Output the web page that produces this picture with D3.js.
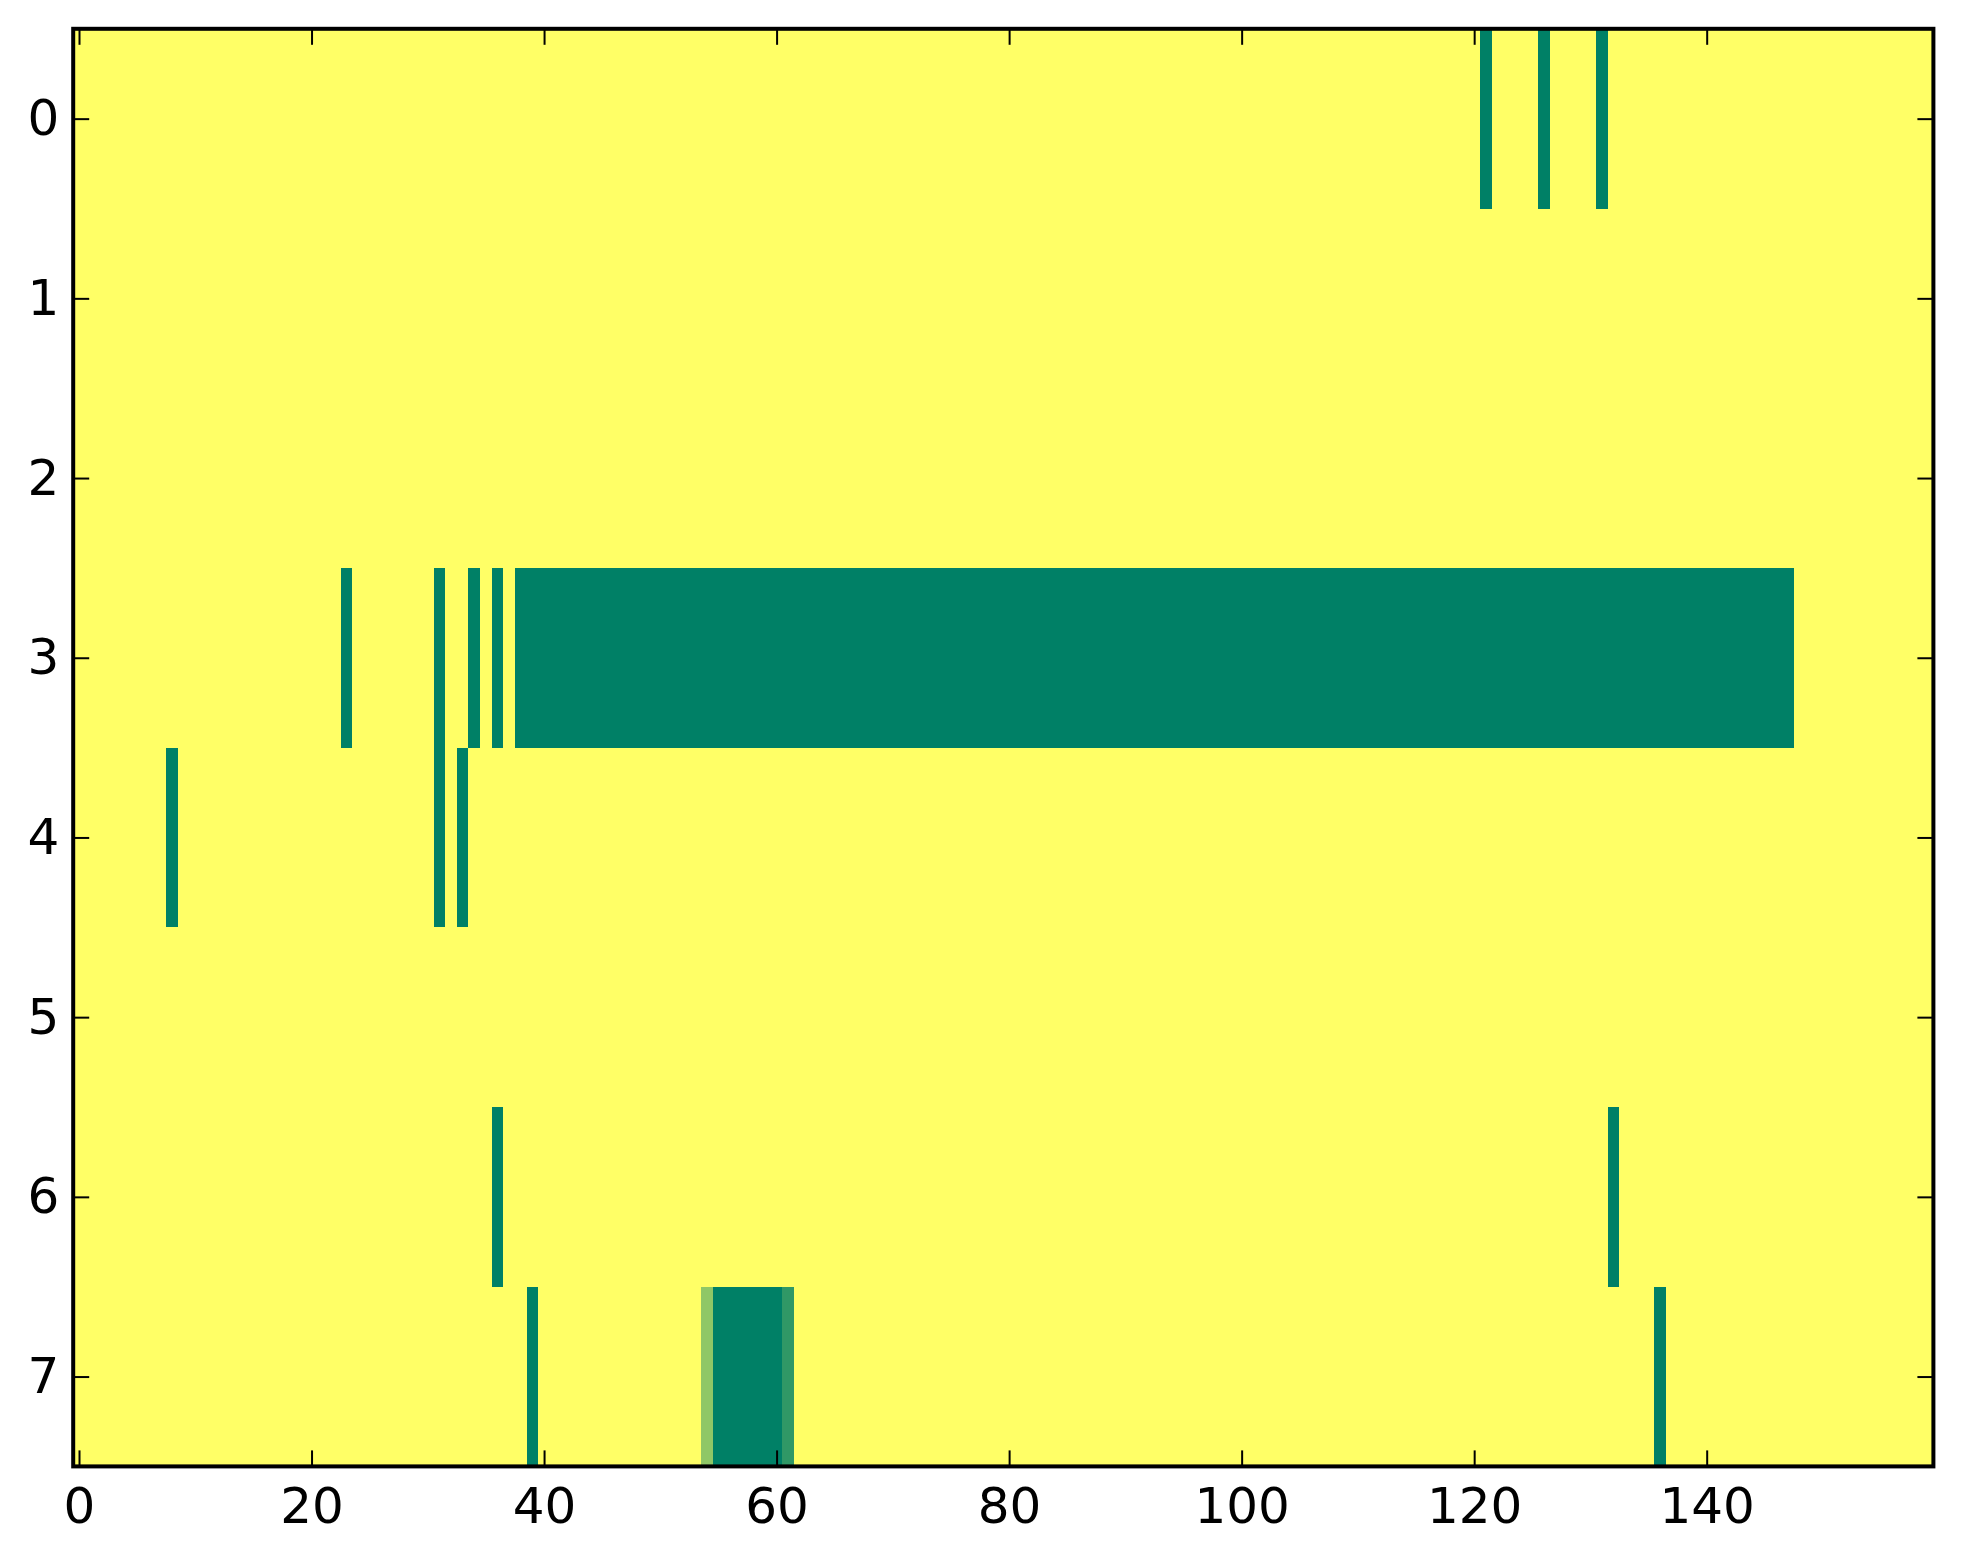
<!DOCTYPE html>
<html>
<head>
<meta charset="utf-8">
<script src="https://cdn.jsdelivr.net/npm/d3@7"></script>
<style>
  html, body { margin: 0; padding: 0; background: #fff; }
  svg { display: block; }
  .tick text { font-family: "DejaVu Sans", sans-serif; font-size: 50px; fill: #000; }
</style>
</head>
<body>
<script>
// ---- data ----
const nCols = 160;                 // columns 0..159
const rowLabels = [0, 1, 2, 3, 4, 5, 6, 7];
const xTicks = [0, 20, 40, 60, 80, 100, 120, 140];
const yTicks = [0, 1, 2, 3, 4, 5, 6, 7];
const defaultValue = 1;            // background (yellow)
// runs of non-default cells: [row, firstCol, lastCol, value]
const runs = [
  [0, 121, 121, 0], [0, 126, 126, 0], [0, 131, 131, 0],
  [3, 23, 23, 0], [3, 31, 31, 0], [3, 34, 34, 0], [3, 36, 36, 0], [3, 38, 147, 0],
  [4, 8, 8, 0], [4, 31, 31, 0], [4, 33, 33, 0],
  [6, 36, 36, 0], [6, 132, 132, 0],
  [7, 39, 39, 0], [7, 54, 54, 0.56], [7, 55, 60, 0], [7, 61, 61, 0.19], [7, 136, 136, 0]
];

// build matrix
const matrix = rowLabels.map(() => new Array(nCols).fill(defaultValue));
runs.forEach(([r, a, b, v]) => { for (let c = a; c <= b; c++) matrix[r][c] = v; });
const cells = [];
matrix.forEach((row, r) => row.forEach((v, c) => cells.push({ r, c, v })));

// ---- layout ----
const W = 1963, H = 1564;
const L = 73.2, R = 1933.4, T = 28.8, B = 1466.4;

const svg = d3.select("body").append("svg").attr("width", W).attr("height", H);

const x = d3.scaleLinear().domain([-0.5, nCols - 0.5]).range([L, R]);
const y = d3.scaleLinear().domain([-0.5, rowLabels.length - 0.5]).range([T, B]);

// summer colormap
const summer = v => d3.rgb(255 * v, 255 * (0.5 + 0.5 * v), 102);

svg.append("g").selectAll("rect").data(cells).join("rect")
  .attr("x", d => x(d.c - 0.5))
  .attr("y", d => y(d.r - 0.5))
  .attr("width", d => x(d.c + 0.5) - x(d.c - 0.5) + 0.5)
  .attr("height", d => y(d.r + 0.5) - y(d.r - 0.5) + 0.5)
  .attr("fill", d => summer(d.v))
  .attr("shape-rendering", "crispEdges");

const tickLen = 16;
function styleAxis(g) {
  g.select(".domain").remove();
  g.selectAll(".tick line").attr("stroke", "#000").attr("stroke-width", 2);
}

svg.append("g").attr("transform", `translate(0,${B})`)
  .call(d3.axisBottom(x).tickValues(xTicks).tickSize(-tickLen).tickPadding(21).tickFormat(d3.format("d")))
  .call(styleAxis);
svg.append("g").attr("transform", `translate(0,${T})`)
  .call(d3.axisTop(x).tickValues(xTicks).tickSize(-tickLen).tickFormat(""))
  .call(styleAxis);
svg.append("g").attr("transform", `translate(${L},0)`)
  .call(d3.axisLeft(y).tickValues(yTicks).tickSize(-tickLen).tickPadding(14).tickFormat(d3.format("d")))
  .call(styleAxis);
svg.append("g").attr("transform", `translate(${R},0)`)
  .call(d3.axisRight(y).tickValues(yTicks).tickSize(-tickLen).tickFormat(""))
  .call(styleAxis);

svg.selectAll(".tick text").attr("font-family", "DejaVu Sans").attr("font-size", 50);

// frame
svg.append("rect")
  .attr("x", L).attr("y", T).attr("width", R - L).attr("height", B - T)
  .attr("fill", "none").attr("stroke", "#000").attr("stroke-width", 4);
</script>
</body>
</html>
